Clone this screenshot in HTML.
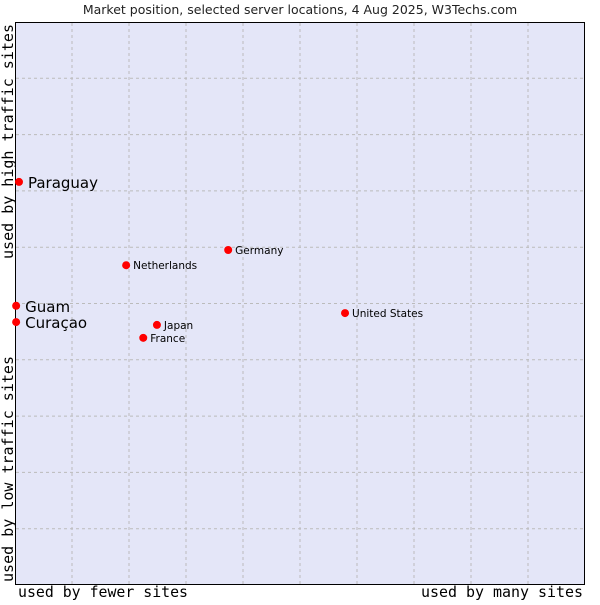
<!DOCTYPE html>
<html><head><meta charset="utf-8"><style>
body{margin:0;background:#fff;width:600px;height:600px;overflow:hidden}
svg text{font-family:"DejaVu Sans","Liberation Sans",sans-serif}
.mono{font-family:"DejaVu Sans Mono","Liberation Mono",monospace}
</style></head><body>
<svg id="chart" width="600" height="600" xmlns="http://www.w3.org/2000/svg">
<text x="300" y="14" font-size="12.5" text-anchor="middle" fill="#222">Market position, selected server locations, 4 Aug 2025, W3Techs.com</text>
<rect x="15.5" y="22.5" width="569" height="562" fill="#e4e6f8" stroke="#000" stroke-width="1"/>
<g id="grid"></g>
<g id="points"></g>
<text class="mono" x="18" y="597" font-size="15" textLength="170" lengthAdjust="spacingAndGlyphs">used by fewer sites</text>
<text class="mono" x="421" y="597" font-size="15" textLength="162" lengthAdjust="spacingAndGlyphs">used by many sites</text>
<text class="mono" transform="translate(13,259) rotate(-90)" font-size="15" textLength="235" lengthAdjust="spacingAndGlyphs">used by high traffic sites</text>
<text class="mono" transform="translate(13,582) rotate(-90)" font-size="15" textLength="226" lengthAdjust="spacingAndGlyphs">used by low traffic sites</text>
</svg>
<script>
const names=["Paraguay","Guam","Curaçao","Netherlands","Germany","United States","Japan","France"];
const xVals=[0.7,0.2,0.2,19.5,37.4,57.9,24.9,22.5];
const yVals=[71.6,49.6,46.7,56.8,59.5,48.3,46.2,43.9];
const bigLabel=[true,true,true,false,false,false,false,false];
const X0=15,X1=585,Y0=585,Y1=22;
const sx=v=>X0+v/100*(X1-X0);
const sy=v=>Y0-v/100*(Y0-Y1);
const NS="http://www.w3.org/2000/svg";
const grid=document.getElementById('grid');
for(let i=1;i<10;i++){
  const v=document.createElementNS(NS,'line');
  
  
  v.setAttribute('x1',sx(i*10));v.setAttribute('x2',sx(i*10));v.setAttribute('y1',Y1+1);v.setAttribute('y2',Y0);
  v.setAttribute('stroke','#bbbbbb');v.setAttribute('stroke-dasharray','3,3');grid.appendChild(v);
  const h=document.createElementNS(NS,'line');
  
  
  h.setAttribute('y1',sy(i*10));h.setAttribute('y2',sy(i*10));h.setAttribute('x1',X0+1);h.setAttribute('x2',X1);
  h.setAttribute('stroke','#bbbbbb');h.setAttribute('stroke-dasharray','3,3');grid.appendChild(h);
}
const pts=document.getElementById('points');
names.forEach((n,i)=>{
  const x=sx(xVals[i]),y=sy(yVals[i]);
  const c=document.createElementNS(NS,'circle');
  
  
  c.setAttribute('cx',x);c.setAttribute('cy',y);c.setAttribute('r',4);c.setAttribute('fill','#f00');
  pts.appendChild(c);
  const t=document.createElementNS(NS,'text');
  
  
  t.setAttribute('x',x+(bigLabel[i]?9:7));t.setAttribute('y',y+(bigLabel[i]?6:4));
  t.setAttribute('font-size',bigLabel[i]?15:10.5);t.setAttribute('fill','#000');
  t.textContent=n;pts.appendChild(t);
});
</script>
</body></html>
